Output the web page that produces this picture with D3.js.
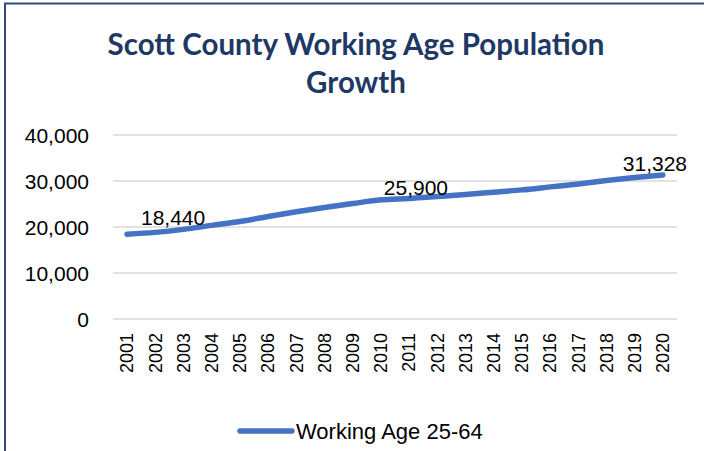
<!DOCTYPE html>
<html>
<head>
<meta charset="utf-8">
<script src="https://cdn.jsdelivr.net/npm/d3@7"></script>
<style>
  html, body { margin: 0; padding: 0; background: #fff; }
  svg { display: block; }
</style>
</head>
<body>
<script>
// Working-age (25-64) population, Scott County, 2001-2020
const years = ["2001","2002","2003","2004","2005","2006","2007","2008","2009","2010",
               "2011","2012","2013","2014","2015","2016","2017","2018","2019","2020"];
const population = [18440, 18830, 19480, 20350, 21200, 22300, 23300, 24250, 25100, 25900,
                    26200, 26620, 27060, 27560, 28070, 28720, 29370, 30090, 30740, 31328];
const yTicks = [0, 10000, 20000, 30000, 40000];
const seriesName = "Working Age 25-64";
const labelledYears = ["2001", "2010", "2020"];
const titleLines = ["Scott County Working Age Population", "Growth"];

const W = 704, H = 451;
const margin = { left: 113, right: 27, top: 135, bottom: 132 };

const svg = d3.select("body").append("svg")
  .attr("width", W).attr("height", H);

// outer frame of the chart area
svg.append("rect")
  .attr("x", 5).attr("y", 3.5)
  .attr("width", W + 20).attr("height", H + 20)
  .attr("fill", "#fff")
  .attr("stroke", "#2f4a7c").attr("stroke-width", 2);

// title
const title = svg.append("text")
  .attr("text-anchor", "middle")
  .attr("fill", "#203864")
  .attr("font-family", "Lato, 'Noto Sans', sans-serif")
  .attr("font-weight", "bold")
  .attr("font-size", 29.5);
titleLines.forEach((t, i) => {
  title.append("tspan").attr("x", 356).attr("y", 55 + i * 38).text(t);
});

const x = d3.scaleBand().domain(years)
  .range([margin.left, W - margin.right]);
const y = d3.scaleLinear().domain([0, 40000])
  .range([H - margin.bottom, margin.top]);

// horizontal gridlines
svg.append("g").selectAll("line").data(yTicks).join("line")
  .attr("x1", margin.left).attr("x2", W - margin.right)
  .attr("y1", d => y(d)).attr("y2", d => y(d))
  .attr("stroke", "#d9d9d9").attr("stroke-width", 1.5);

// y axis labels
const yAxis = svg.append("g")
  .attr("transform", `translate(${margin.left - 24},0)`)
  .call(d3.axisLeft(y).tickValues(yTicks).tickSize(0).tickFormat(d3.format(",")));
yAxis.select(".domain").remove();
yAxis.selectAll("text")
  .attr("x", 0).attr("dy", "0.35em")
  .attr("font-family", "'Liberation Sans', Arial, sans-serif")
  .attr("font-size", 21).attr("fill", "#000");

// x axis labels, rotated
const xAxis = svg.append("g")
  .attr("transform", `translate(0,${H - margin.bottom})`)
  .call(d3.axisBottom(x).tickSize(0));
xAxis.select(".domain").remove();
xAxis.selectAll("text")
  .attr("font-family", "'Liberation Sans', Arial, sans-serif")
  .attr("font-size", 18).attr("fill", "#000")
  .attr("text-anchor", "end")
  .attr("transform", "rotate(-90)")
  .attr("x", -14).attr("y", 0).attr("dy", "0.35em");

// series line
const pts = years.map((yr, i) => ({ yr, v: population[i] }));
const line = d3.line()
  .x(d => x(d.yr) + x.bandwidth() / 2)
  .y(d => y(d.v))
  .curve(d3.curveMonotoneX);
svg.append("path").datum(pts)
  .attr("d", line)
  .attr("fill", "none")
  .attr("stroke", "#4472c4").attr("stroke-width", 5.5)
  .attr("stroke-linecap", "round").attr("stroke-linejoin", "round");

// value labels, nudged off the line
const labelNudge = { "2001": [46, -9], "2010": [35, -5], "2020": [-8, -4] };
svg.append("g").selectAll("text")
  .data(pts.filter(d => labelledYears.includes(d.yr))).join("text")
  .attr("x", d => x(d.yr) + x.bandwidth() / 2 + labelNudge[d.yr][0])
  .attr("y", d => y(d.v) + labelNudge[d.yr][1])
  .attr("text-anchor", "middle")
  .attr("font-family", "'Liberation Sans', Arial, sans-serif")
  .attr("font-size", 21).attr("fill", "#000")
  .text(d => d3.format(",")(d.v));

// legend
const lg = svg.append("g").attr("transform", "translate(240,431)");
lg.append("line").attr("x1", 0).attr("x2", 52)
  .attr("stroke", "#4472c4").attr("stroke-width", 5.5).attr("stroke-linecap", "round");
lg.append("text").attr("x", 56).attr("dy", "0.35em")
  .attr("font-family", "'Liberation Sans', Arial, sans-serif")
  .attr("font-size", 22).attr("fill", "#000")
  .text(seriesName);
</script>
</body>
</html>
